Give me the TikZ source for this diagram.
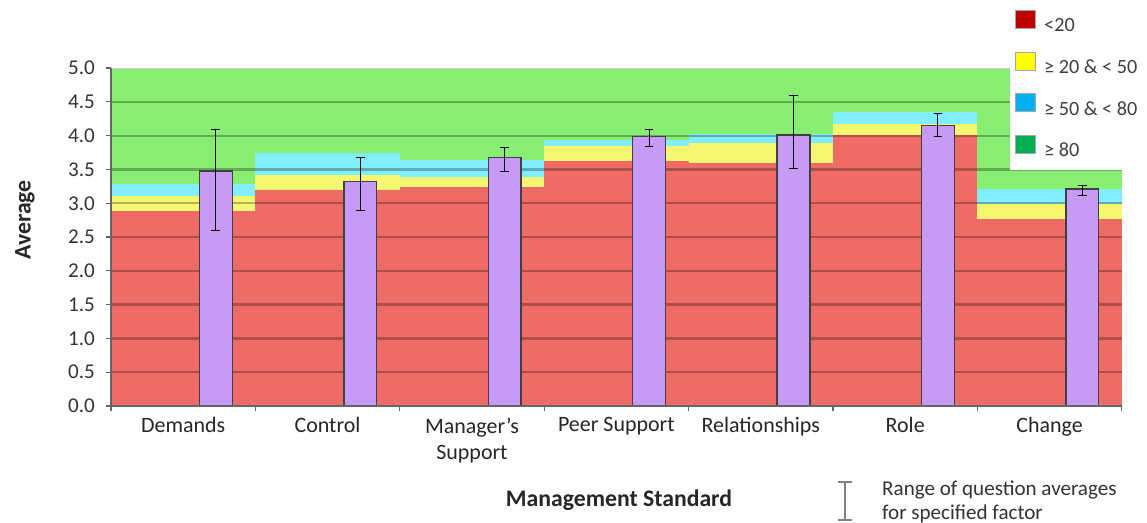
\documentclass[tikz,border=0pt]{standalone}
\usepackage{fontspec}
\setmainfont{Carlito}
\definecolor{bandred}{HTML}{EF6C66}
\definecolor{bandyellow}{HTML}{F6F770}
\definecolor{bandcyan}{HTML}{80EEFC}
\definecolor{bandgreen}{HTML}{88EE72}
\definecolor{barpurple}{HTML}{C79AF5}
\definecolor{keyred}{HTML}{C00000}
\definecolor{keyyellow}{HTML}{FFFF00}
\definecolor{keyblue}{HTML}{00B0F0}
\definecolor{keygreen}{HTML}{00B050}
\begin{document}
\begin{tikzpicture}[
                    x=0.02cm, y=0.02cm,
                    gridline/.style={line width=1.3pt},
                    axisline/.style={black!60, line width=0.7pt},
                    meanbar/.style={fill=barpurple, draw=black!75, line width=0.8pt},
                    rangebar/.style={black, line width=0.5pt},
                    ticklabel/.style={anchor=east, font=\fontsize{12}{14}\selectfont, text=black!80},
                    catlabel/.style={anchor=north, align=center, font=\fontsize{12.5}{15}\selectfont, text=black!85},
                    keybox/.style={minimum width=0.4cm, minimum height=0.36cm, inner sep=0pt, draw=gray!70, line width=0.3pt},
                    keytext/.style={anchor=west, font=\fontsize{11.5}{13}\selectfont, text=black!75},
                    axistitle/.style={font=\bfseries\fontsize{13.5}{16}\selectfont, text=black!85},
                ]
                \useasboundingbox (0,0) rectangle (1147,523);
                % chart area
                \begin{scope}[shift={(2.22cm,2.34cm)}, x=2.8886cm, y=1.352cm]
                \foreach \i/\r/\yl/\c in {1/2.88/3.11/3.29, 2/3.19/3.42/3.75, 3/3.24/3.39/3.64,
                    4/3.62/3.85/3.93, 5/3.60/3.89/4.03, 6/4.01/4.18/4.35, 7/2.76/3.00/3.21} {
                    \fill[bandgreen] (\i-1,0) rectangle (\i,5);
                    \fill[bandcyan] (\i-1,0) rectangle (\i,\c);
                    \fill[bandyellow] (\i-1,0) rectangle (\i,\yl);
                    \fill[bandred] (\i-1,0) rectangle (\i,\r);
                    % grid lines, a shade darker than the band under them
                    \foreach \lvl in {0.5,1.0,1.5,2.0,2.5,3.0,3.5,4.0,4.5} {
                        \pgfmathsetmacro{\shade}{\lvl<\r ? "bandred" : (\lvl<\yl ? "bandyellow" : (\lvl<\c ? "bandcyan" : "bandgreen"))}
                        \draw[gridline, draw=\shade!72!black] (\i-1,\lvl) -- (\i,\lvl);
                    }
                }
                \draw[gray!40, line width=0.6pt] (0,5) -- (7,5);
                \foreach \i/\v/\lo/\hi in {1/3.48/2.60/4.09, 2/3.32/2.90/3.68, 3/3.68/3.47/3.82,
                    4/3.99/3.84/4.09, 5/4.01/3.52/4.60, 6/4.15/3.99/4.33, 7/3.21/3.11/3.27} {
                    \draw[meanbar] (\i-0.387,0) rectangle (\i-0.160,\v);
                    \coordinate (lo-\i) at (\i-0.2735,\lo);
                    \coordinate (hi-\i) at (\i-0.2735,\hi);
                    \draw[rangebar] (lo-\i) -- (hi-\i);
                    \draw[rangebar] ([xshift=-2.5pt]lo-\i) -- ([xshift=2.5pt]lo-\i);
                    \draw[rangebar] ([xshift=-2.5pt]hi-\i) -- ([xshift=2.5pt]hi-\i);
                }
                % axes
                \coordinate (origin) at (0,0);
                \coordinate (ytop) at (0,5);
                \coordinate (xend) at (7,0);
                \draw[axisline] (ytop) -- (origin) -- (xend);
                \foreach \t in {0.0,0.5,1.0,1.5,2.0,2.5,3.0,3.5,4.0,4.5,5.0} {
                    \draw[axisline] (0,\t) -- ++(-0.1cm,0);
                    \node[ticklabel] (tick-\t) at (-0.2cm,\t) {\t};
                }
                \foreach \i in {0,...,7}
                    \draw[axisline] (\i,0) -- ++(0,-0.1cm);
                \foreach \i/\n in {1/Demands, 2/Control, 3/{Manager’s\\Support}, 4/Peer Support,
                    5/Relationships, 6/Role, 7/Change}
                    \node[catlabel] (cat-\i) at (\i-0.5,-0.08) {\n};
                \end{scope}
                % key
                \fill[white] (1010,353) rectangle (1147,523);
                \node[keybox, fill=keyred] (key-red) at (1025,504) {};
                \node[keybox, fill=keyyellow] (key-yellow) at (1025,462) {};
                \node[keybox, fill=keyblue] (key-blue) at (1025,421) {};
                \node[keybox, fill=keygreen] (key-green) at (1025,379) {};
                \node[keytext] (txt-red) at (1038,498) {<20};
                \node[keytext] (txt-yellow) at (1038,456) {≥ 20 \& < 50};
                \node[keytext] (txt-blue) at (1038,414) {≥ 50 \& < 80};
                \node[keytext] (txt-green) at (1038,373) {≥ 80};
                % titles
                \node[axistitle, rotate=90] (ytitle) at (25,303) {Average};
                \node[axistitle] (xtitle) at (619,23) {Management Standard};
                % range key
                \coordinate (range-top) at (845,41);
                \coordinate (range-bot) at (845,3);
                \draw[gray, line width=1pt] (range-top) -- (range-bot);
                \draw[gray, line width=1pt] ([xshift=-0.14cm]range-top) -- ([xshift=0.14cm]range-top);
                \draw[gray, line width=1pt] ([xshift=-0.14cm]range-bot) -- ([xshift=0.14cm]range-bot);
                \node[anchor=west, align=left, font=\fontsize{12}{13.6}\selectfont, text=black!80] (range-text) at (876,21)
                    {Range of question averages\\for specified factor};
\end{tikzpicture}
\end{document}
